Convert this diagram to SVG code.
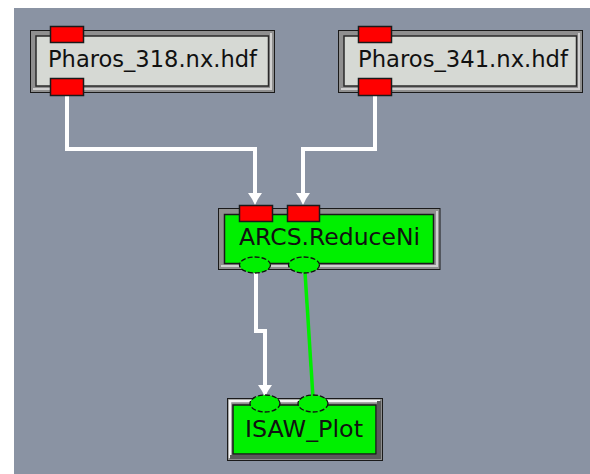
<svg xmlns="http://www.w3.org/2000/svg" width="590" height="474" viewBox="0 0 590 474">
<style>
.frame{fill:#8f8f8f;stroke:#1a1a1a;stroke-width:1}
.inl{fill:#d6d9d4;stroke:#2a2a2a;stroke-width:1.5}
.ing{fill:#00f000;stroke:#1a1a1a;stroke-width:1.5}
.port{fill:#ff0000;stroke:#1a1a1a;stroke-width:1.5}
.oport{fill:#00f000;stroke:#111;stroke-width:1.3;stroke-dasharray:5 2}
.lbl{font-family:"DejaVu Sans","Liberation Sans",sans-serif;font-size:22.5px;fill:#111}
.hl{fill:none;stroke:#d0d0d0;stroke-width:2}
.wire{fill:none;stroke:#ffffff;stroke-width:4;stroke-linejoin:miter}
.gwire{fill:none;stroke:#00ee00;stroke-width:3.5}
</style>
<rect x="14" y="8" width="576" height="466" fill="#8a93a3"/>
<g id="connectors">
<polyline class="wire" points="67,96 67,149 255,149 255,194"/>
<polygon points="248,193 262,193 258,199 255,205 252,199" fill="#fff"/>
<polyline class="wire" points="375,96 375,149 303,149 303,194"/>
<polygon points="296,193 310,193 306,199 303,205 300,199" fill="#fff"/>
<polyline class="wire" points="256,273 256,331 265,331 265,386"/>
<polygon points="258,385 272,385 268,391 265,397 262,391" fill="#fff"/>
<line class="gwire" x1="305" y1="272" x2="313" y2="398"/>
</g>
<g id="pharos318">
<rect class="frame" x="30.5" y="30.5" width="244" height="62"/>
<polyline class="hl" points="33,89 271,89 271,33"/>
<rect class="inl" x="36" y="36" width="232.5" height="50"/>
<text class="lbl" x="48" y="67" textLength="209" lengthAdjust="spacingAndGlyphs">Pharos_318.nx.hdf</text>
<rect class="port" x="50.5" y="26.5" width="33" height="16"/>
<rect class="port" x="50.5" y="78.5" width="33" height="17"/>
</g>
<g id="pharos341">
<rect class="frame" x="338.5" y="30.5" width="244" height="62"/>
<polyline class="hl" points="341,89 579,89 579,33"/>
<rect class="inl" x="344" y="36" width="232.5" height="50"/>
<text class="lbl" x="358" y="67" textLength="210" lengthAdjust="spacingAndGlyphs">Pharos_341.nx.hdf</text>
<rect class="port" x="358.5" y="26.5" width="33" height="16"/>
<rect class="port" x="358.5" y="78.5" width="33" height="17"/>
</g>
<g id="reduceni">
<rect class="frame" x="218.5" y="208.5" width="221.5" height="61"/>
<polyline class="hl" points="221,266 437,266 437,211"/>
<rect class="ing" x="224.5" y="214.5" width="209" height="49"/>
<text class="lbl" x="239" y="245" textLength="181" lengthAdjust="spacingAndGlyphs">ARCS.ReduceNi</text>
<rect class="port" x="239.5" y="205.5" width="33" height="16"/>
<rect class="port" x="287.5" y="205.5" width="32" height="16"/>
<ellipse class="oport" cx="255" cy="265" rx="15.5" ry="8"/>
<ellipse class="oport" cx="304" cy="265" rx="15.5" ry="8"/>
</g>
<g id="isawplot">
<rect x="227.5" y="398.5" width="155" height="62" fill="#8f8f8f" stroke="#1a1a1a"/>
<polyline points="230,458 230,401 380,401" fill="none" stroke="#f4f4f4" stroke-width="2.5"/>
<polyline points="230,457 379,457 379,401" fill="none" stroke="#5a5a5a" stroke-width="4"/>
<rect class="ing" x="233" y="405" width="143" height="49"/>
<text class="lbl" x="245" y="437" textLength="118" lengthAdjust="spacingAndGlyphs">ISAW_Plot</text>
<ellipse class="oport" cx="265" cy="403.5" rx="15" ry="8.5"/>
<ellipse class="oport" cx="313" cy="403.5" rx="15" ry="8.5"/>
</g>
</svg>
